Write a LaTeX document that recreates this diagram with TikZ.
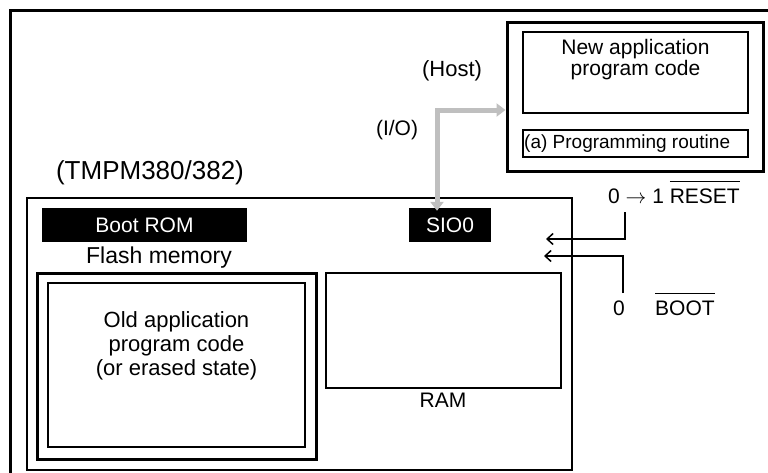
\documentclass[tikz,border=0pt]{standalone}
\usepackage{fontspec}
\setmainfont{Liberation Sans}
\usetikzlibrary{arrows.meta,positioning}
\newcommand{\ovl}[1]{\vbox{\hrule height 1.2pt \kern 6pt \hbox{#1}}}

\begin{document}
\begin{tikzpicture}[x=1pt,y=-1pt,
    box/.style={draw,line width=#1,inner sep=0pt},
    box/.default=1.5pt,
    blk/.style={fill=black,text=white,inner sep=0pt,font=\fontsize{21}{21}\selectfont},
    txt/.style={inner sep=0pt,align=center,font=\fontsize{#1}{#1}\selectfont},
    txt/.default=22,
    io/.style={line width=5pt,draw=black!25,{Triangle[length=9pt,width=13pt]}-{Triangle[length=9pt,width=13pt]}},
    sig/.style={line width=1.5pt,-{Straight Barb[length=6pt,width=11pt]}}]
    \useasboundingbox (0,0) rectangle (768,472);
    \clip (0,0) rectangle (768,472);
    \draw[line width=3pt] (10,480) -- (10,10) -- (780,10);
    % host side
    \node[box=3pt,minimum width=256pt,minimum height=149pt] (host) at (635,96.5) {};
    \node[box,minimum width=225pt,minimum height=81pt] (newapp) at (635.5,72.5) {};
    \node[txt=21] (newtxt) at (635.5,60) {New application\\program code};
    \node[box,minimum width=225pt,minimum height=27pt] (prog) at (635.5,143.5) {};
    \node[txt=19,anchor=west] (progtxt) at (524,143.5) {(a) Programming routine};
    \node[txt] (hosttxt) at (452,71) {(Host)};
    \node[txt=21] (iotxt) at (397,130) {(I/O)};
    % device side
    \node[txt=26] (dev) at (150,173) {(TMPM380/382)};
    \node[box=2pt,minimum width=545pt,minimum height=272pt] (chip) at (299.5,334) {};
    \node[blk,minimum width=205pt,minimum height=34pt] (brom) at (144.5,225) {Boot ROM};
    \node[blk,minimum width=82pt,minimum height=34pt] (sio) at (450,225) {SIO0};
    \node[txt=23] (flashtxt) at (159,258) {Flash memory};
    \node[box=3pt,minimum width=279pt,minimum height=186pt] (flash) at (176.5,366) {};
    \node[box=2pt,minimum width=257pt,minimum height=164pt] (old) at (176.5,365) {};
    \node[txt,font=\fontsize{22}{24}\selectfont] (oldtxt) at (176.5,346) {Old application\\program code\\(or erased state)};
    \node[box,minimum width=235pt,minimum height=115pt] (ram) at (443.5,330.5) {};
    \node[txt=21] (ramtxt) at (443,400) {RAM};
    % pins
    \node[txt=21,anchor=base west] (rst) at (608,203) {0 $\rightarrow$ 1 \ovl{RESET}};
    \node[txt=21,anchor=base west] (bt0) at (613,315) {0};
    \node[txt=21,anchor=base west] (boot) at (655,315) {\ovl{BOOT}};
    \coordinate (bend) at (437,110);
    \coordinate (rstsrc) at (625,212);
    \coordinate (rstin) at (546,239);
    \coordinate (btsrc) at (623,293);
    \coordinate (btin) at (544,256);
    \draw[io] ([yshift=-3pt]sio.north -| bend) |- (bend -| host.west);
    \draw[sig] (rstsrc) |- (rstin);
    \draw[sig] (btsrc) |- (btin);
  \end{tikzpicture}
\end{document}
